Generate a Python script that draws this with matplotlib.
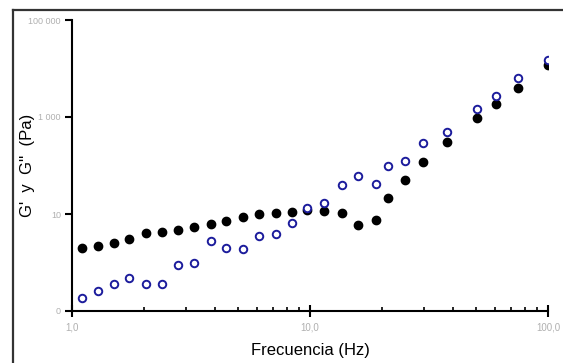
import matplotlib
matplotlib.use("Agg")
import matplotlib.pyplot as plt
from matplotlib.lines import Line2D
from matplotlib.ticker import FixedLocator, LogLocator, NullFormatter, NullLocator

# frecuencia (Hz)
freq = [1.10, 1.29, 1.50, 1.74, 2.05, 2.38, 2.80, 3.27, 3.83, 4.44, 5.21, 6.12,
        7.18, 8.38, 9.71, 11.45, 13.67, 15.86, 18.89, 21.33, 25.07, 29.92,
        37.5, 50.2, 60.3, 74.6, 99.7]
# modulo elastico G' (Pa)
g_elast = [2.02, 2.22, 2.56, 3.05, 4.00, 4.20, 4.68, 5.47, 6.13, 7.28, 8.80, 9.86,
           10.3, 11.1, 12.1, 11.5, 10.6, 5.93, 7.52, 21.1, 50.2, 118,
           301, 940, 1828, 4018, 11810]
# modulo viscoso G'' (Pa)
g_visc = [0.183, 0.258, 0.356, 0.472, 0.361, 0.356, 0.887, 0.99, 2.77, 1.96, 1.87, 3.57,
          3.81, 6.43, 13.1, 16.6, 39.6, 60.8, 41.6, 97.7, 126, 287,
          498, 1442, 2750, 6460, 14970]

y_ticks = [0.1, 10, 1000, 100000]
y_labels = ["0", "10", "1 000", "100 000"]
x_ticks = [1, 10, 100]
x_labels = ["1,0", "10,0", "100,0"]

plt.rcParams['font.family'] = ['Liberation Sans', 'DejaVu Sans']

fig = plt.figure(figsize=(5.63, 3.63), dpi=100)
ax = fig.add_axes([72 / 563, 1 - 311 / 363, 476 / 563, 291 / 363])

ax.plot(freq, g_elast, linestyle="none", marker="o", markersize=6.0,
        color="black", markeredgecolor="black", zorder=3)
ax.plot(freq, g_visc, linestyle="none", marker="o", markersize=5.4,
        markerfacecolor="white", markeredgecolor="#1c1c9c", markeredgewidth=1.4, zorder=4)

ax.set_xscale("log")
ax.set_yscale("log")
ax.set_xlim(1, 100)
ax.set_ylim(0.1, 100000)

for side in ("top", "right"):
    ax.spines[side].set_visible(False)
for side in ("left", "bottom"):
    ax.spines[side].set_linewidth(1.5)
    ax.spines[side].set_color("black")

ax.yaxis.set_major_locator(FixedLocator(y_ticks))
ax.yaxis.set_minor_locator(NullLocator())
ax.set_yticklabels(y_labels)
ax.tick_params(axis="y", which="major", direction="out", length=5, width=1.5,
               labelsize=6.5, labelcolor="#b0b0b0", pad=3)

ax.xaxis.set_major_locator(FixedLocator(x_ticks))
ax.xaxis.set_minor_locator(LogLocator(base=10, subs=range(2, 10)))
ax.xaxis.set_minor_formatter(NullFormatter())
ax.set_xticklabels(x_labels)
ax.tick_params(axis="x", which="major", direction="inout", length=8, width=1.5,
               labelsize=7, labelcolor="#b0b0b0", pad=4)
ax.tick_params(axis="x", which="minor", direction="in", length=3, width=1.2)

ax.set_xlabel("Frecuencia (Hz)", fontsize=12, labelpad=8)
ax.set_ylabel("G'  y  G''  (Pa)", fontsize=12)
ax.yaxis.set_label_coords(-0.078, 0.5)

# marco exterior del grafico
fig.add_artist(Line2D([12.5 / 563, 12.5 / 563], [0, 1 - 9.5 / 363],
                      transform=fig.transFigure, color="#333333", linewidth=1.6))
fig.add_artist(Line2D([12.5 / 563, 1], [1 - 9.5 / 363, 1 - 9.5 / 363],
                      transform=fig.transFigure, color="#333333", linewidth=1.6))

fig.savefig("out.png", dpi=100)
